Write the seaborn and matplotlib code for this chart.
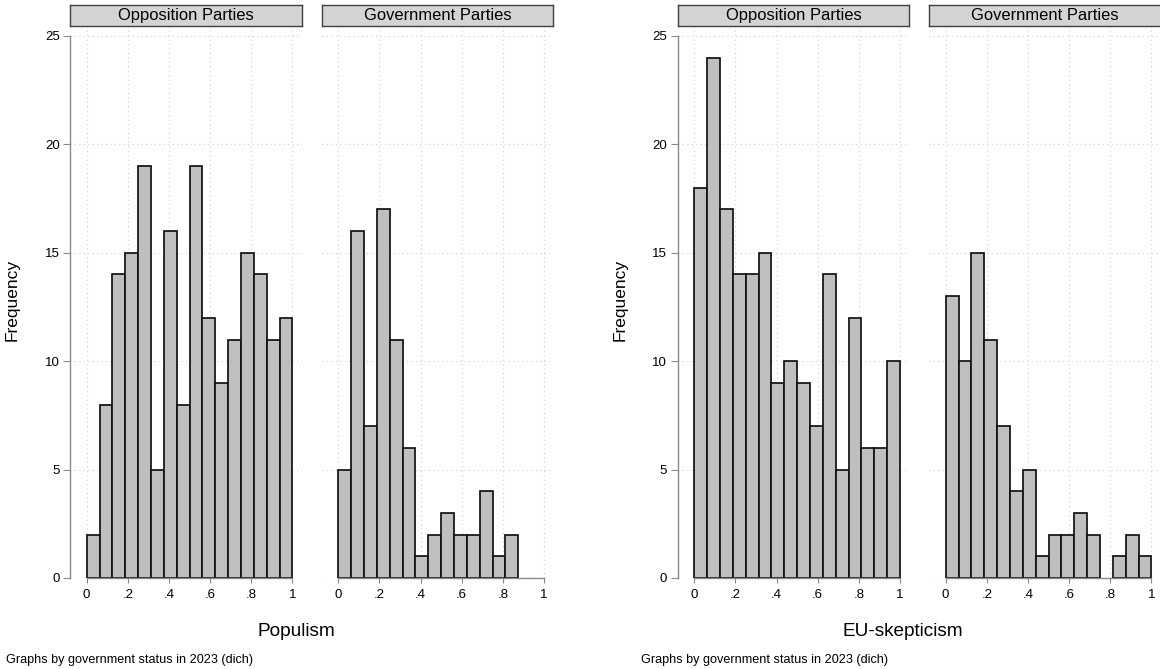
import numpy as np
import pandas as pd
import matplotlib
matplotlib.use("Agg")
import matplotlib.pyplot as plt
import seaborn as sns

# 16 bins of width 1/16 between 0 and 1
n_bins = 16
bin_edges = np.linspace(0, 1, n_bins + 1)
bin_mids = (bin_edges[:-1] + bin_edges[1:]) / 2

# frequencies
populism_opp = [2, 8, 14, 15, 19, 5, 16, 8, 19, 12, 9, 11, 15, 14, 11, 12]
populism_gov = [5, 16, 7, 17, 11, 6, 1, 2, 3, 2, 2, 4, 1, 2, 0, 0]
eusk_opp = [18, 24, 17, 14, 14, 15, 9, 10, 9, 7, 14, 5, 12, 6, 6, 10]
eusk_gov = [13, 10, 15, 11, 7, 4, 5, 1, 2, 2, 3, 2, 0, 1, 2, 1]

panel_titles = ["Opposition Parties", "Government Parties"]
x_titles = ["Populism", "EU-skepticism"]
x_ticks = [0, 0.2, 0.4, 0.6, 0.8, 1]
x_ticklabels = ["0", ".2", ".4", ".6", ".8", "1"]
y_ticks = [0, 5, 10, 15, 20, 25]
note = "Graphs by government status in 2023 (dich)"

sns.set_style("white")
plt.rcParams["font.family"] = ["Liberation Sans", "DejaVu Sans"]
plt.rcParams["text.color"] = "black"
plt.rcParams["xtick.labelcolor"] = "black"
plt.rcParams["ytick.labelcolor"] = "black"

W, H = 1160, 669
fig = plt.figure(figsize=(W / 100, H / 100), dpi=100)

px_per_unit = 205.8
xlim = (-0.081, 1.045)
ax_w = (xlim[1] - xlim[0]) * px_per_unit
y_top, y_bot = 26, 578
ylim = (0, 25 + 10 / 21.68)

# left pixel of each panel: (graph, panel)
panel_left = {(0, 0): 70, (0, 1): 321.6, (1, 0): 677.6, (1, 1): 929}
data = {(0, 0): populism_opp, (0, 1): populism_gov,
        (1, 0): eusk_opp, (1, 1): eusk_gov}

axis_col = "#8a8a8a"

for g in range(2):
    for p in range(2):
        left = panel_left[(g, p)]
        ax = fig.add_axes([left / W, (H - y_bot) / H, ax_w / W,
                           (y_bot - y_top) / H])
        df = pd.DataFrame({"x": bin_mids, "n": data[(g, p)]})
        sns.histplot(data=df, x="x", weights="n", bins=n_bins,
                     binrange=(0, 1), ax=ax, color="#bfbfbf",
                     edgecolor="#111111", linewidth=1.25, alpha=1)
        # hide empty bins
        for patch in ax.patches:
            if patch.get_height() == 0:
                patch.set_visible(False)
        ax.set_xlim(*xlim)
        ax.set_ylim(*ylim)
        ax.set_xlabel("")
        ax.set_ylabel("")
        ax.set_axisbelow(True)
        ax.grid(True, linestyle=(0, (1, 3)), color="#cfcfcf", linewidth=0.8)
        ax.set_xticks(x_ticks)
        ax.set_xticklabels(x_ticklabels, fontsize=9.5)
        ax.set_yticks(y_ticks)
        for s in ["top", "right"]:
            ax.spines[s].set_visible(False)
        ax.spines["bottom"].set_bounds(0, 1)
        ax.spines["bottom"].set_color(axis_col)
        ax.spines["bottom"].set_linewidth(1.0)
        ax.tick_params(axis="x", length=3.6, width=0.8, color=axis_col,
                       pad=4, bottom=True)
        if p == 0:
            ax.spines["left"].set_bounds(0, 25)
            ax.spines["left"].set_color(axis_col)
            ax.spines["left"].set_linewidth(1.0)
            ax.tick_params(axis="y", length=5, width=0.8, color=axis_col,
                           pad=2.5, labelsize=9.5, left=True)
        else:
            ax.spines["left"].set_visible(False)
            ax.tick_params(axis="y", left=False, labelleft=False)

        # strip with the panel title
        sax = fig.add_axes([left / W, (H - 26) / H, ax_w / W, 21.5 / H])
        sax.set_facecolor("#d4d4d4")
        sax.set_xticks([])
        sax.set_yticks([])
        for s in sax.spines.values():
            s.set_color("#404040")
            s.set_linewidth(1.0)
        sax.text(0.5, 0.47, panel_titles[p], ha="center", va="center",
                 fontsize=11.9, transform=sax.transAxes)

# outer labels of each graph
fig.text(12 / W, 1 - 300 / H, "Frequency", rotation=90, ha="center",
         va="center", fontsize=12.5)
fig.text(620 / W, 1 - 300 / H, "Frequency", rotation=90, ha="center",
         va="center", fontsize=12.5)
fig.text(296 / W, 1 - 632 / H, x_titles[0], ha="center", va="center",
         fontsize=13.7)
fig.text(903 / W, 1 - 632 / H, x_titles[1], ha="center", va="center",
         fontsize=13.7)
fig.text(6 / W, 1 - 660 / H, note, ha="left", va="center", fontsize=9.1)
fig.text(641 / W, 1 - 660 / H, note, ha="left", va="center", fontsize=9.1)

fig.savefig("out.png", dpi=100, facecolor="white")
